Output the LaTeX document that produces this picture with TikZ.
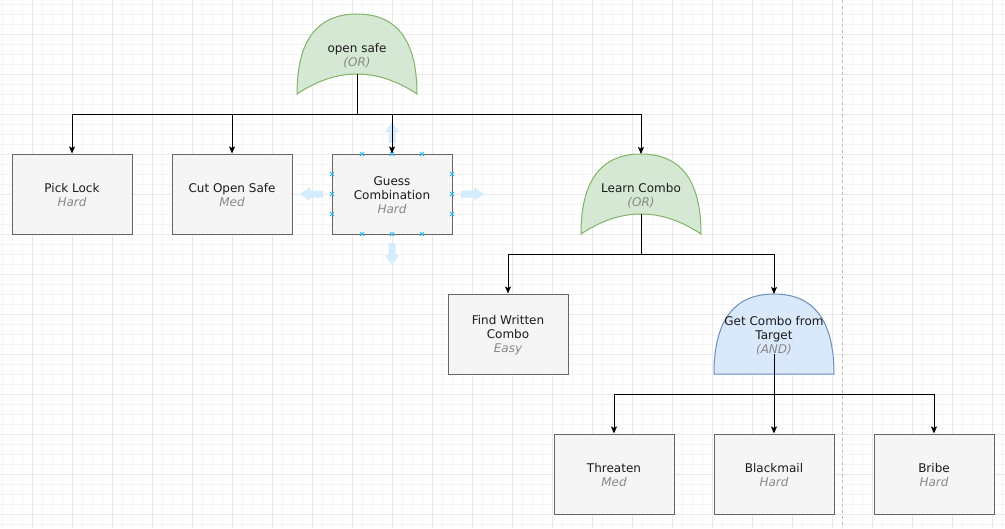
\documentclass[tikz,border=0pt]{standalone}
\usepackage{fontspec}
\setmainfont{DejaVu Sans}
\usetikzlibrary{arrows.meta,calc}
\definecolor{boxfill}{HTML}{F5F5F5}
\definecolor{boxline}{HTML}{666666}
\definecolor{txt}{HTML}{1A1A1A}
\definecolor{sub}{HTML}{888888}
\definecolor{gfill}{HTML}{D5E8D4}
\definecolor{gline}{HTML}{82B366}
\definecolor{bfill}{HTML}{DAE8FC}
\definecolor{bline}{HTML}{6C8EBF}
\definecolor{gridminor}{HTML}{F5F5F5}
\definecolor{gridmajor}{HTML}{E8E8E8}
\definecolor{handle}{HTML}{29B6F2}
\definecolor{hint}{HTML}{D4ECFB}
\definecolor{sepline}{HTML}{BDBDBD}
\newcommand\tstrut{\rule{0pt}{11pt}}
\begin{document}
\begin{tikzpicture}[x=1pt,y=-1pt,
  task/.style={draw=boxline, fill=boxfill, line width=1pt, minimum width=120pt, minimum height=80pt,
    inner sep=0pt, align=center, font=\fontsize{12}{14}\selectfont, text=txt},
  lbl/.style={align=center, font=\fontsize{12}{14}\selectfont, text=txt, inner sep=0pt},
  orgate/.style={draw=gline, fill=gfill, line width=1pt},
  andgate/.style={draw=bline, fill=bfill, line width=1pt},
  link/.style={line width=1pt, draw=black, -{Stealth[length=7pt,width=6pt,inset=1.5pt]}},
  hintarrow/.style={fill=hint, draw=none},
  xmark/.style={draw=handle, line width=0.8pt},
]
\useasboundingbox (0,0) rectangle (1005,528);
\fill[white] (0,0) rectangle (1005,528);
% grid
\foreach \x in {2,12,...,1002} \draw[gridminor, line width=1pt] (\x,0) -- (\x,528);
\foreach \y in {4,14,...,524} \draw[gridminor, line width=1pt] (0,\y) -- (1005,\y);
\foreach \x in {32,72,...,992} \draw[gridmajor, line width=1pt] (\x,0) -- (\x,528);
\foreach \y in {34,74,...,514} \draw[gridmajor, line width=1pt] (0,\y) -- (1005,\y);
% page separator
\draw[sepline, line width=1pt, dash pattern=on 3pt off 3pt] (842.5,0) -- (842.5,528);

% OR gate: open safe (297..417, 14..94)
\begin{scope}[shift={(297,14)}]
\path[orgate] (0,80) .. controls (0,26.67) and (20,0) .. (60,0)
  .. controls (100,0) and (120,26.67) .. (120,80)
  .. controls (80,53.33) and (40,53.33) .. (0,80) -- cycle;
\end{scope}
\node[lbl] (safe) at (357,56) {open safe\\{\color{sub}\itshape (OR)}};
\coordinate (safe-out) at (357,74);

% OR gate: Learn Combo (581..701, 154..234)
\begin{scope}[shift={(581,154)}]
\path[orgate] (0,80) .. controls (0,26.67) and (20,0) .. (60,0)
  .. controls (100,0) and (120,26.67) .. (120,80)
  .. controls (80,53.33) and (40,53.33) .. (0,80) -- cycle;
\end{scope}
\node[lbl] (learn) at (641,196) {Learn Combo\\{\color{sub}\itshape (OR)}};
\coordinate (learn-in) at (641,154);
\coordinate (learn-out) at (641,214);

% AND gate: Get Combo from Target (714..834, 294..374)
\begin{scope}[shift={(714,294)}]
\path[andgate] (0,80) .. controls (0,26.67) and (20,0) .. (60,0)
  .. controls (100,0) and (120,26.67) .. (120,80) -- cycle;
\end{scope}
\node[lbl] (target) at (774,336) {Get Combo from\\Target\\{\color{sub}\itshape (AND)}};
\coordinate (target-in) at (774,294);
\coordinate (target-out) at (774,354);

% hint arrows around Guess Combination
\fill[hintarrow] (392,122) -- (399,132) -- (395.5,132) -- (395.5,143) -- (388.5,143) -- (388.5,132) -- (385,132) -- cycle;
\fill[hintarrow] (392,265) -- (399,255) -- (395.5,255) -- (395.5,243) -- (388.5,243) -- (388.5,255) -- (385,255) -- cycle;
\fill[hintarrow] (300,194) -- (310,187) -- (310,190.5) -- (323,190.5) -- (323,197.5) -- (310,197.5) -- (310,201) -- cycle;
\fill[hintarrow] (484,194) -- (474,187) -- (474,190.5) -- (461,190.5) -- (461,197.5) -- (474,197.5) -- (474,201) -- cycle;

% tasks
\node[task] (pick) at (72,194) {\tstrut Pick Lock\\{\color{sub}\itshape Hard}};
\node[task] (cut) at (232,194) {\tstrut Cut Open Safe\\{\color{sub}\itshape Med}};
\node[task] (guess) at (392,194) {\tstrut Guess\\Combination\\{\color{sub}\itshape Hard}};
\node[task] (find) at (508,334) {\tstrut Find Written\\Combo\\{\color{sub}\itshape Easy}};
\node[task] (threaten) at (614,474) {\tstrut Threaten\\{\color{sub}\itshape Med}};
\node[task] (blackmail) at (774,474) {\tstrut Blackmail\\{\color{sub}\itshape Hard}};
\node[task] (bribe) at (934,474) {\tstrut Bribe\\{\color{sub}\itshape Hard}};

% connection handles on Guess Combination
\foreach \p in {(362,154),(392,154),(422,154),(362,234),(392,234),(422,234),
                (332,174),(332,194),(332,214),(452,174),(452,194),(452,214)}
  \draw[xmark] \p ++(-2,-2) -- ++(4,4) \p ++(-2,2) -- ++(4,-4);

% connectors
\draw[link] (safe-out) -- ++(0,40) -| (pick.north);
\draw[link] (safe-out) -- ++(0,40) -| (cut.north);
\draw[link] (safe-out) -- ++(0,40) -| (guess.north);
\draw[link] (safe-out) -- ++(0,40) -| (learn-in);
\draw[link] (learn-out) -- ++(0,40) -| (find.north);
\draw[link] (learn-out) -- ++(0,40) -| (target-in);
\draw[link] (target-out) -- ++(0,40) -| (threaten.north);
\draw[link] (target-out) -- (blackmail.north);
\draw[link] (target-out) -- ++(0,40) -| (bribe.north);
\end{tikzpicture}
\end{document}
